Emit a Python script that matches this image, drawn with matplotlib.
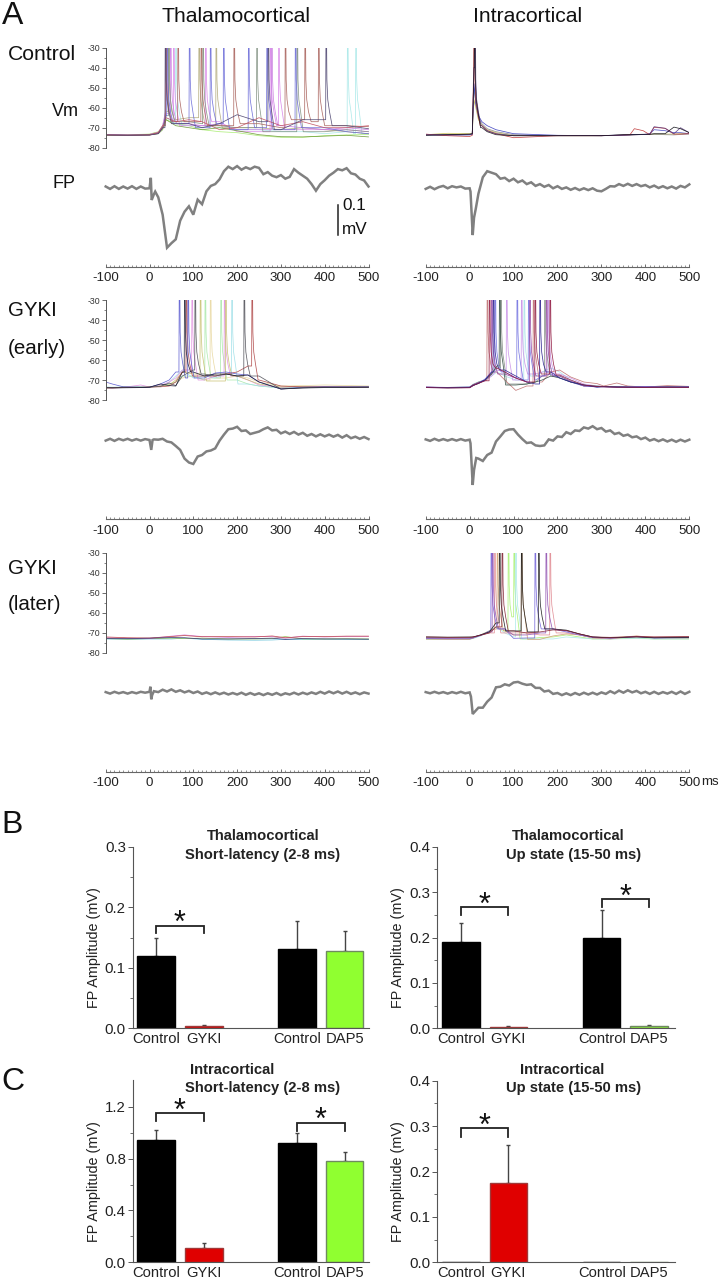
import matplotlib
matplotlib.use("Agg")
import matplotlib.pyplot as plt

plt.rcParams['font.family'] = ['Liberation Sans', 'DejaVu Sans']
plt.rcParams['axes.unicode_minus'] = False
W, H = 719, 1280
fig = plt.figure(figsize=(W / 100, H / 100), dpi=100)

# ---------- Vm traces: (colour, values on the panel's time grid, spike times) ----------
T1 = [-100, -50, 0, 20, 30, 38, 60, 90, 120, 160, 200, 250, 300, 350, 400, 450, 500]
A1 = [
    ('#a8ec70', [-73.5, -73.5, -73.2, -72, -70, -66, -68, -69, -71, -72, -72.5, -74, -74.8, -74.8, -74, -73.6, -73.4], []),
    ('#a8e8e8', [-73.4, -73.6, -73.5, -72.6, -70, -65, -68, -69, -69, -70, -71, -71, -72, -72, -73, -72, -73], [60, 452, 471]),
    ('#b0a878', [-73.7, -73.6, -73.3, -72.2, -69, -62, -66, -65, -64, -69, -70, -70, -71, -70, -71, -72, -73], [43, 113, 152]),
    ('#d884e8', [-73.5, -73.6, -73.4, -72.4, -69, -61, -67, -69, -69, -67, -72, -72, -69, -71, -71, -71, -72], [38, 55, 128, 276, 295]),
    ('#c97ce0', [-73.4, -73.7, -73.4, -72.5, -70, -63, -68, -68, -69, -68, -71, -71, -69, -70, -71, -70, -71], [48, 279]),
    ('#809080', [-73.6, -73.7, -73.5, -72.9, -70, -64, -67, -67, -68, -69, -70, -72, -72, -71, -72, -71, -72], [44, 122, 245, 337]),
    ('#6a9a30', [-73.7, -73.8, -73.6, -73, -71, -66, -69, -70, -71, -70, -71.5, -73.5, -74.5, -74.6, -74.2, -73.8, -74.6], []),
    ('#6a6ad8', [-73.4, -73.8, -73.6, -72.8, -70, -64, -68, -68, -70, -68, -71, -70, -71, -70, -70, -72, -73], [40, 91, 139, 169, 226, 268, 333]),
    ('#a8605a', [-73.6, -73.9, -73.5, -72.5, -69, -63, -67, -67, -66, -69, -71, -68, -70, -66, -67, -69, -69.5], [37, 65, 118, 193, 310, 355, 386]),
    ('#c05060', [-73.6, -73.7, -73.7, -72.6, -70, -65, -67, -66, -67, -71, -70, -65, -69, -67, -70, -70, -69], []),
    ('#4c4470', [-73.7, -73.8, -73.7, -73, -70, -62, -68, -68, -70, -68, -63.5, -67, -71, -66, -66, -69, -70.5], [36, 271, 403]),
]

T2 = [-100, -50, 0, 6, 10, 14, 20, 28, 40, 60, 100, 200, 300, 350, 365, 375, 395, 410, 420, 445, 465, 480, 500]
A2 = [
    ('#c8c050', [-73.5, -72.8, -73, -72.8, -56, -60, -66, -69, -71, -72.5, -74, -74, -74, -73.7, -73.6, -73.5, -73.4, -73.3, -73.2, -73.2, -73.2, -73, -72.8], []),
    ('#888888', [-73.7, -73.6, -73.4, -73, -50, -58, -65, -68, -70.5, -72, -73.5, -74, -74, -73.7, -73.6, -73.5, -73.4, -73.3, -73.3, -73.5, -73.6, -73.4, -73.2], []),
    ('#3c40c0', [-73.5, -73.8, -73.6, -73.3, -48, -58, -64, -67, -69, -71, -73, -73.8, -74, -73.6, -73.5, -73.4, -73.4, -73, -71, -71.5, -72.5, -72.5, -73], []),
    ('#c03838', [-73.2, -74, -74.4, -73.8, -40, -60, -66, -69, -71.5, -73, -75, -74, -74, -73.7, -73.5, -70.5, -71.5, -73.5, -69.8, -70.3, -73.2, -73.2, -73], [10]),
    ('#5a3a80', [-73.6, -73.5, -73.5, -73.2, -40, -60, -66, -69, -71.5, -73, -74, -74, -74, -73.8, -73.7, -73.6, -73.4, -73.2, -69.5, -70.3, -73, -70, -72.5], [12]),
    ('#101018', [-73.8, -73.5, -73.2, -73, -40, -62, -68, -70, -72, -73.5, -74, -74, -74, -73.5, -73.5, -73.4, -73.3, -73.3, -73, -73, -69.7, -70.5, -72.5], [11]),
]

T3 = [-100, -85, -60, -20, 0, 25, 45, 60, 75, 100, 125, 150, 175, 200, 225, 250, 300, 350, 400, 500]
A3 = [
    ('#e8d8a0', [-74, -74, -73.6, -73.6, -73.5, -73, -72, -71, -69, -68, -70, -70, -69, -68, -69, -71, -73, -72.8, -72.5, -73], [139]),
    ('#a8e8a8', [-74, -73.8, -73.6, -73.6, -73.4, -73, -72, -71, -68, -68, -70, -69, -69, -70, -72, -73, -74, -73.5, -73.4, -73.5], [127, 163]),
    ('#a0e0e8', [-73.5, -73.6, -73.5, -73.2, -73.3, -73, -71, -68, -65, -69, -68, -69, -67, -70, -72, -73, -74, -73.4, -73.2, -73.3], [188]),
    ('#e090e0', [-74, -74, -73.7, -72.5, -73.5, -72.8, -71, -69, -65, -69, -70, -68, -68, -68, -70, -72.5, -73.6, -73.2, -73.3, -73.2], [97, 171]),
    ('#c8c070', [-73.8, -73.8, -73.6, -73.5, -73.5, -73, -72.5, -70, -66, -67, -69, -70.5, -71, -68, -70, -72, -73.5, -73.3, -73.4, -73.3], [116, 174]),
    ('#b04848', [-73.9, -73.9, -73.8, -73.7, -73.5, -73.4, -73, -71, -66, -68, -68, -68, -67, -66, -63, -70, -73, -73.5, -73.4, -73.6], [84, 234]),
    ('#5a5ad0', [-71, -72, -73.4, -73.6, -73.6, -72, -70, -66, -63, -69, -69, -66.5, -66, -67, -67.5, -71, -74.5, -73.6, -73.4, -73.4], [68, 88]),
    ('#505058', [-73.7, -73.8, -73.6, -73.7, -73.6, -73.2, -71.5, -72.8, -68, -65, -67, -68, -67, -68, -63.5, -68, -74.5, -73.9, -73.6, -73.6], [104, 216]),
    ('#181830', [-73.9, -74, -73.9, -73.8, -73.6, -72, -72.8, -73, -66, -66, -68, -67, -67, -68, -67.5, -71, -74.5, -74, -73.8, -73.6], [80]),
]

T4 = [-100, -50, 0, 8, 20, 35, 50, 62, 80, 105, 130, 150, 165, 185, 205, 230, 260, 290, 305, 335, 360, 400, 450, 500]
A4 = [
    ('#a8e0e8', [-73.6, -73.8, -73.5, -72, -71, -70, -68, -66, -68, -70, -71, -68, -66, -64, -66, -70, -72.5, -73, -73.2, -73.2, -73.4, -73.5, -73.5, -73.4], [124]),
    ('#c890e8', [-73.6, -73.8, -73.6, -72.5, -71.5, -70.5, -68, -65, -66, -70, -70, -67, -66, -65, -67, -69, -72, -73, -73.2, -73.2, -73.4, -73.4, -73.5, -73.4], [84, 118, 179]),
    ('#808880', [-73.7, -73.7, -73.5, -72.3, -71, -70, -67, -64, -67, -72, -72, -71, -68, -66, -68, -71, -73, -73, -73.3, -73.3, -73.4, -73.6, -73.4, -73.5], [71, 171]),
    ('#c07070', [-73.5, -73.8, -73.7, -72.3, -71.3, -70.2, -68, -66, -70, -75.2, -73, -68, -71, -66, -65, -68.5, -71, -71.8, -73, -71.5, -73, -73.5, -72.8, -73.2], [40, 145]),
    ('#7070e0', [-73.5, -73.7, -73.5, -72.6, -71.6, -69.5, -66, -64, -66, -69, -70, -70, -68, -67, -69, -71, -73, -73.5, -73.2, -73.4, -73.4, -73.3, -73.6, -73.4], [58, 108, 134]),
    ('#9040a0', [-73.6, -73.8, -73.7, -72.4, -71.4, -70, -67, -65, -67, -69, -71, -70, -68, -65, -68, -70.5, -73, -73.2, -73.4, -73.5, -73.6, -73.5, -73.6, -73.5], [50, 137, 175]),
    ('#304a40', [-73.7, -73.9, -73.8, -72.6, -71.8, -70, -67, -63, -70, -72.5, -72, -71, -70, -68, -69, -71, -72.5, -73.2, -73.3, -73.5, -73.6, -73.7, -73.6, -73.6], [68]),
    ('#2a2090', [-73.8, -73.9, -73.8, -72.8, -71.6, -70, -66, -62, -65, -68, -71, -72, -68, -66, -69, -71, -72.5, -73.6, -73.4, -73.6, -73.6, -73.6, -73.5, -73.6], [54, 160]),
    ('#901840', [-73.8, -74, -73.9, -72.8, -71.7, -70.4, -67, -64, -66, -69, -71, -69, -67, -65, -67.5, -70, -72.5, -73.3, -73.4, -73.6, -73.6, -73.7, -73.6, -73.7], [45, 149, 183]),
]

T5 = [-100, -50, 0, 50, 80, 120, 180, 240, 280, 310, 350, 400, 450, 500]
A5 = [
    ('#60c0d8', [-73, -73.2, -73, -73, -72.6, -73.2, -73.5, -73.6, -73.5, -73.2, -73.3, -73.1, -73.2, -73.2], []),
    ('#90c050', [-72.8, -73.1, -72.8, -72.6, -72.8, -72.6, -73, -73, -72.8, -71.8, -73, -73, -72.9, -73], []),
    ('#d070d8', [-72.4, -72.6, -72.8, -71.6, -71, -71.8, -72.2, -71.8, -71.8, -72.6, -71.6, -72, -71.7, -71.7], []),
    ('#c04848', [-72, -72.4, -72.5, -71.8, -71.3, -71.9, -71.8, -72, -71.5, -72.4, -71.8, -71.8, -71.6, -71.6], []),
    ('#303070', [-72.7, -72.8, -72.6, -72.3, -72.4, -73, -73, -72.8, -72.6, -73.2, -72.8, -73, -73, -73.1], []),
]

T6 = [-100, -50, 0, 8, 25, 45, 60, 80, 100, 130, 160, 190, 220, 250, 280, 320, 380, 420, 500]
A6 = [
    ('#a8f070', [-73.2, -73.3, -73.2, -72.6, -71, -69, -67, -69, -72.5, -73, -72.3, -72, -71, -72, -73, -73, -72.5, -73, -73], [88, 101]),
    ('#a8e8e8', [-73.1, -73.2, -73, -72.8, -71.5, -69, -67, -70, -72, -73, -73, -73, -72, -72.5, -73, -73, -72.8, -73, -73], [105]),
    ('#d0a070', [-73, -73.1, -73.1, -72.6, -71, -69, -68, -69, -71, -72, -73.2, -71.5, -70.5, -71, -72.5, -72.5, -71.5, -72.4, -72.5], [63, 118]),
    ('#e08890', [-72.9, -73, -73, -72.4, -71, -70, -66, -70, -70, -70, -71, -68, -70, -71, -72.4, -73, -71.6, -72, -72], [57, 183]),
    ('#7060d8', [-72.8, -72.9, -72.9, -72.5, -71.3, -69, -65, -68, -72.7, -72.5, -70, -68, -69.5, -71, -72.3, -72.6, -71.8, -72.6, -72.4], [49, 149]),
    ('#9050b0', [-72.4, -72.6, -72.5, -72, -71, -69.5, -66, -68, -71, -71, -70, -68, -69, -70.5, -72, -72.5, -72, -72.3, -72.2], [52, 174]),
    ('#181818', [-72, -72.1, -72, -72, -71, -69.5, -65, -68, -69, -70, -69.5, -68, -68.6, -70.5, -72, -72.4, -72, -72.4, -72.2], [68, 118, 157]),
    ('#802030', [-72, -72.2, -72.2, -72, -71.2, -70, -67, -68, -69, -70, -69.5, -68.5, -68.8, -70.5, -72, -72.2, -71.8, -72, -71.8], [74]),
]

# ---------- Field potentials (mV) read every 10 ms from -100 to 500, plus fast points ----------
F_GRID = list(range(-100, 501, 10))
F1_V = [.004, -.004, .005, -.004, .004, -.003, .005, -.004, .004, -.003, -.002,
        -.022, -.032, -.09, -.2, -.185, -.172, -.11, -.08, -.062, -.09,
        -.04, -.055, -.012, .006, .012, .028, .055, .07, .062, .072,
        .06, .068, .062, .07, .066, .045, .052, .04, .035, .042,
        .03, .036, .062, .05, .04, .03, .012, -.01, .012, .025,
        .04, .05, .062, .058, .065, .048, .044, .03, .024, .004]
F1_FAST_T = [3, 5, 13]
F1_FAST_V = [.033, -.041, -.013]
F2_V = [-.004, .003, -.005, .002, .006, -.002, .005, .001, .004, -.003, -.002,
        -.1, -.02, .035, .055, .05, .045, .03, .033, .022, .03,
        .018, .024, .012, .018, .006, .012, .003, .009, -.002, .005,
        -.004, .001, -.007, -.001, -.008, -.002, -.008, -.002, -.01, -.012,
        -.004, .005, .004, .012, .006, .013, .006, .012, .005, .009,
        .001, .007, -.001, .005, -.002, .004, -.003, .006, .001, .011]
F2_FAST_T = [2, 7, 14]
F2_FAST_V = [-.013, -.158, -.07]
F3_V = [-.002, .004, -.003, .004, -.001, .004, -.002, .003, -.002, .003, 0,
        .002, .001, .004, -.005, -.008, -.02, -.033, -.062, -.075, -.08,
        -.055, -.05, -.038, -.035, -.028, -.002, .018, .036, .038, .044,
        .03, .032, .02, .024, .028, .036, .042, .032, .034, .022,
        .028, .02, .027, .018, .024, .014, .02, .012, .019, .012,
        .018, .011, .017, .008, .016, .006, .011, .004, .01, .003]
F3_FAST_T = [4, 7]
F3_FAST_V = [-.033, 0]
F4_V = [.002, -.003, .004, -.002, .003, -.002, .003, -.002, .003, -.002, .001,
        -.1, -.062, -.07, -.05, -.042, -.005, .012, .03, .035, .036,
        .018, .003, -.01, -.008, -.018, -.02, -.018, .002, -.002, .012,
        .01, .026, .02, .032, .03, .042, .038, .046, .036, .04,
        .028, .032, .02, .024, .014, .018, .009, .012, .003, .008,
        -.002, .003, -.004, .002, -.005, .001, -.006, .001, -.005, .001]
F4_FAST_T = [2, 7, 15]
F4_FAST_V = [-.011, -.15, -.06]
F5_V = [.002, -.003, .003, -.002, .002, -.003, .002, -.002, .003, 0, .003,
        .005, .002, .01, .004, .011, .003, .008, .001, .006, -.001,
        .004, -.004, .001, -.005, .001, -.005, 0, -.006, -.001, -.006,
        0, -.007, -.001, -.007, -.002, -.008, -.002, -.007, -.001, -.008,
        -.002, -.006, 0, -.006, 0, -.005, .001, -.004, .003, -.003,
        .004, -.002, .004, -.003, .003, -.004, .001, -.005, .001, -.003]
F5_FAST_T = [2, 4, 6]
F5_FAST_V = [.02, -.022, -.008]
F6_V = [.002, -.002, .003, -.002, .002, -.003, .002, -.002, .003, -.002, .001,
        -.066, -.05, -.05, -.03, -.016, .018, .02, .028, .024, .034,
        .036, .03, .026, .028, .016, .016, .004, .007, -.004, -.001,
        -.008, -.002, -.008, -.001, -.007, 0, -.006, 0, -.006, .001,
        -.004, .005, -.002, .007, 0, .008, .001, .006, -.002, .003,
        -.004, .003, -.004, .002, -.003, .003, -.004, .004, -.004, .003]
F6_FAST_T = [3, 7]
F6_FAST_V = [-.013, -.071]

X_TICKS = [-100, 0, 100, 200, 300, 400, 500]
VM_TICKS = [-30, -40, -50, -60, -70, -80]

# ---------- Bars ----------
BAR_LABELS = ['Control', 'GYKI', 'Control', 'DAP5']
BAR_POS = [0, 1, 2.96, 3.96]
BAR_COLORS = ['black', '#e00000', 'black', '#90ff30']
BAR_EDGES = ['black', '#a03838', 'black', '#6f8a60']
B1_VAL = [0.12, 0.003, 0.131, 0.127]
B1_TOP = [0.149, 0.006, 0.177, 0.16]
B2_VAL = [0.191, 0.003, 0.2, 0.005]
B2_TOP = [0.232, 0.005, 0.26, 0.007]
C1_VAL = [0.94, 0.11, 0.92, 0.78]
C1_TOP = [1.02, 0.15, 0.995, 0.85]
C2_VAL = [0, 0.175, 0, 0]
C2_TOP = [0, 0.258, 0, 0]


def ax_px(l, t, r, b):
    a = fig.add_axes([l / W, 1 - b / H, (r - l) / W, (b - t) / H])
    a.patch.set_alpha(0)
    return a


def txt(x, y, s, size, ha='left', va='center', **kw):
    kw.setdefault('color', '#111111')
    fig.text(x / W, 1 - y / H, s, fontsize=size, ha=ha, va=va, **kw)


def with_spikes(t, v, spikes):
    pts = list(zip(t, v))
    for s in spikes:
        before = [p for p in pts if p[0] <= s]
        after = [p for p in pts if p[0] >= s + 15]
        pre = before[-1][1]
        nxt = after[0][1] if after else pre
        kept = [p for p in pts if p[0] < s - 0.8 or p[0] >= s + 15]
        kept += [(s - 0.8, pre), (s, -15), (s + 1.0, -15), (s + 2, -46), (s + 4, -56),
                 (s + 8, -62), (s + 14, nxt)]
        pts = sorted(kept)
    return [p[0] for p in pts], [p[1] for p in pts]


def vm_panel(l, r, top, bottom, grid, traces, show_y):
    a = ax_px(l, top, r, bottom)
    a.set_xlim(-100, 500)
    a.set_ylim(-80, -30)
    for col, vals, spikes in traces:
        xs, ys = with_spikes(grid, vals, spikes)
        a.plot(xs, ys, color=col, lw=0.55, alpha=0.9, solid_joinstyle='round')
    a.set_xticks([])
    for sp in ('top', 'right', 'bottom'):
        a.spines[sp].set_visible(False)
    if show_y:
        a.spines['left'].set_color('#555555')
        a.spines['left'].set_linewidth(0.7)
        a.set_yticks(VM_TICKS)
        a.set_yticks(list(range(-80, -29, 5)), minor=True)
        a.tick_params(axis='y', which='major', labelsize=6.3, length=3, width=0.6, pad=1,
                      color='#555555', labelcolor='#333333')
        a.tick_params(axis='y', which='minor', length=1.5, width=0.5, color='#555555')
    else:
        a.spines['left'].set_visible(False)
        a.set_yticks([])


def fp_panel(l, r, base, axis_y, vals, fast_t, fast_v):
    top = base - 35
    a = ax_px(l, top, r, axis_y)
    a.set_xlim(-100, 500)
    a.set_ylim(-(axis_y - base) / 300, 35 / 300)
    pts = sorted(list(zip(F_GRID, vals)) + list(zip(fast_t, fast_v)))
    a.plot([p[0] for p in pts], [p[1] for p in pts], color='#808080', lw=1.8,
           solid_joinstyle='miter', clip_on=False)
    for sp in ('top', 'right', 'left'):
        a.spines[sp].set_visible(False)
    a.spines['bottom'].set_color('#666666')
    a.spines['bottom'].set_linewidth(0.8)
    a.set_yticks([])
    a.set_xticks(X_TICKS)
    a.set_xticks(list(range(-100, 501, 10)), minor=True)
    a.tick_params(axis='x', which='major', direction='in', length=2.5, width=0.6,
                  color='#555555', labelsize=9.6, pad=4, labelcolor='#222222')
    a.tick_params(axis='x', which='minor', direction='in', length=1.3, width=0.5, color='#666666')
    return a


L1, R1, L2, R2 = 105.7, 368.5, 425.7, 689.3
ROWS = [(47.7, 147.7, 187.7, 266.7), (300, 400, 440, 519), (552.7, 653, 692.7, 771.7)]
vm_panel(L1, R1, ROWS[0][0], ROWS[0][1], T1, A1, True)
vm_panel(L2, R2, ROWS[0][0], ROWS[0][1], T2, A2, False)
vm_panel(L1, R1, ROWS[1][0], ROWS[1][1], T3, A3, True)
vm_panel(L2, R2, ROWS[1][0], ROWS[1][1], T4, A4, False)
vm_panel(L1, R1, ROWS[2][0], ROWS[2][1], T5, A5, True)
vm_panel(L2, R2, ROWS[2][0], ROWS[2][1], T6, A6, False)

fp_a = fp_panel(L1, R1, ROWS[0][2], ROWS[0][3], F1_V, F1_FAST_T, F1_FAST_V)
fp_panel(L2, R2, ROWS[0][2], ROWS[0][3], F2_V, F2_FAST_T, F2_FAST_V)
fp_panel(L1, R1, ROWS[1][2], ROWS[1][3], F3_V, F3_FAST_T, F3_FAST_V)
fp_panel(L2, R2, ROWS[1][2], ROWS[1][3], F4_V, F4_FAST_T, F4_FAST_V)
fp_panel(L1, R1, ROWS[2][2], ROWS[2][3], F5_V, F5_FAST_T, F5_FAST_V)
fp_panel(L2, R2, ROWS[2][2], ROWS[2][3], F6_V, F6_FAST_T, F6_FAST_V)

# 0.1 mV scale bar
fp_a.plot([431, 431], [-0.058, -0.158], color='#222222', lw=1.1, clip_on=False)


def bar_panel(l, r, top, zero, ymax, val, tops, yticks, yminor, brackets):
    a = ax_px(l, top, r, zero)
    slot = 47.6
    c0 = l + 23.5
    a.set_xlim((l - c0) / slot, (r - c0) / slot)
    a.set_ylim(0, ymax)
    a.bar(BAR_POS, val, width=0.79, color=BAR_COLORS, edgecolor=BAR_EDGES, linewidth=1.0, zorder=2)
    for p, v, tp in zip(BAR_POS, val, tops):
        if tp > v:
            a.errorbar([p], [v], yerr=[[0], [tp - v]], color='#444444', lw=1.0, capsize=1.6,
                       capthick=1.0, zorder=1, clip_on=False)
    a.set_xticks(BAR_POS)
    a.set_xticklabels(BAR_LABELS, fontsize=10.6, color='#222222')
    a.tick_params(axis='x', length=0, pad=2.5)
    a.set_yticks(yticks)
    a.set_yticklabels(['%.1f' % y for y in yticks], fontsize=10.8, color='#222222')
    a.set_yticks(yminor, minor=True)
    a.tick_params(axis='y', which='major', length=3.5, width=0.7, color='#555555', pad=1.5)
    a.tick_params(axis='y', which='minor', length=2, width=0.6, color='#555555')
    for sp in ('top', 'right'):
        a.spines[sp].set_visible(False)
    for sp in ('left', 'bottom'):
        a.spines[sp].set_color('#555555')
        a.spines[sp].set_linewidth(0.8)
    for x0, x1, y, low in brackets:
        a.plot([x0, x0, x1, x1], [low, y, y, low], color='#222222', lw=1.3, clip_on=False,
               solid_joinstyle='miter')
        a.annotate('*', xy=((x0 + x1) / 2, y), xytext=(0, 1), textcoords='offset points',
                   ha='center', va='center', fontsize=22, color='#111111', annotation_clip=False)
    txt(l - 39, zero - 81, 'FP Amplitude (mV)', 10.4, ha='center', rotation=90, color='#222222')


bar_panel(132.7, 369.3, 846.7, 1028.3, 0.3, B1_VAL, B1_TOP, [0, .1, .2, .3], [.05, .15, .25],
          [(0, 1, 0.1695, 0.157)])
bar_panel(437.3, 674.7, 846.7, 1028.3, 0.4, B2_VAL, B2_TOP, [0, .1, .2, .3, .4], [.05, .15, .25, .35],
          [(0, 1, 0.267, 0.25), (2.96, 3.96, 0.285, 0.267)])
bar_panel(132.7, 369.3, 1080, 1262.3, 1.406, C1_VAL, C1_TOP, [0, .4, .8, 1.2], [.2, .6, 1.0],
          [(0, 1, 1.149, 1.09), (2.96, 3.96, 1.076, 1.012)])
bar_panel(437.3, 674.7, 1080.7, 1262.3, 0.4, C2_VAL, C2_TOP, [0, .1, .2, .3, .4], [.05, .15, .25, .35],
          [(0, 1, 0.295, 0.277)])

# ---------- Text ----------
txt(12.5, 16, 'A', 23, ha='center')
txt(12.5, 825, 'B', 23, ha='center')
txt(12.5, 1082, 'C', 23, ha='center')
txt(236, 16, 'Thalamocortical', 15.2, ha='center')
txt(528, 16, 'Intracortical', 15.2, ha='center')
txt(8, 54, 'Control', 15.2)
txt(52, 111, 'Vm', 13)
txt(53, 184, 'FP', 13)
txt(8, 311, 'GYKI', 14.8)
txt(8, 348, '(early)', 14.8)
txt(8, 568, 'GYKI', 14.8)
txt(8, 604, '(later)', 14.8)
txt(342, 205, '0.1', 12.3)
txt(342, 229, 'mV', 12.3)
txt(701, 782, 'ms', 9.6, color='#222222')

for x, y, s in [(263, 836, 'Thalamocortical'), (262.7, 855, 'Short-latency (2-8 ms)'),
                (568, 836, 'Thalamocortical'), (574, 855, 'Up state (15-50 ms)'),
                (232, 1070, 'Intracortical'), (262.7, 1088, 'Short-latency (2-8 ms)'),
                (562, 1070, 'Intracortical'), (574, 1088, 'Up state (15-50 ms)')]:
    txt(x, y, s, 10.6, ha='center', fontweight='bold', color='#222222')

fig.savefig('out.png', dpi=100)
